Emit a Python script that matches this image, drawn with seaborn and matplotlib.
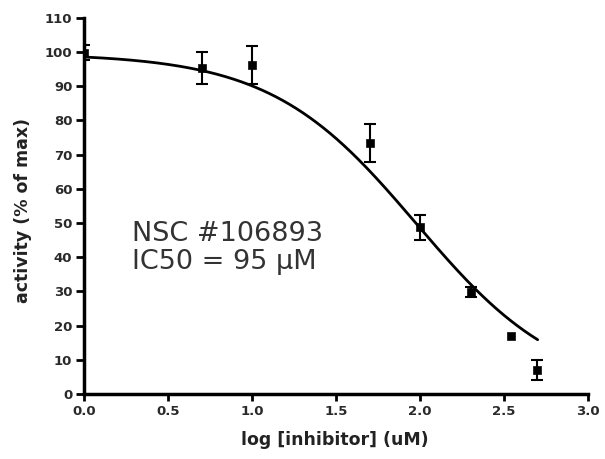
import numpy as np
import pandas as pd
import matplotlib
matplotlib.use("Agg")
import matplotlib.pyplot as plt
import seaborn as sns

# data
log_conc = [0.0, 0.699, 1.0, 1.699, 2.0, 2.301, 2.544, 2.699]
activity = [99.8, 95.4, 96.2, 73.4, 48.8, 29.8, 17.0, 7.0]
sem = [2.2, 4.6, 5.6, 5.5, 3.7, 1.4, 0.0, 3.0]

# fitted sigmoidal dose-response parameters
fit_top = 99.6
fit_bottom = 0.0
fit_logic50 = 1.978
fit_hill = 1.0
fit_xmin, fit_xmax = 0.0, 2.7

x_ticks = [0.0, 0.5, 1.0, 1.5, 2.0, 2.5, 3.0]
y_ticks = list(range(0, 111, 10))

sns.set_theme(style="ticks")
plt.rcParams['font.family'] = ['DejaVu Sans']

fig = plt.figure(figsize=(6.05, 4.59), dpi=100)
ax = fig.add_axes([0.139, 0.1416, 0.833, 0.8194])

xf = np.linspace(fit_xmin, fit_xmax, 200)
yf = fit_bottom + (fit_top - fit_bottom) / (1 + 10 ** ((xf - fit_logic50) * fit_hill))
curve = pd.DataFrame({"x": xf, "y": yf})
sns.lineplot(data=curve, x="x", y="y", ax=ax, color="black", linewidth=2.0)

df = pd.DataFrame({"x": log_conc, "y": activity, "e": sem})
eb = df[df["e"] > 0]
ax.errorbar(eb["x"], eb["y"], yerr=eb["e"], fmt="none", ecolor="black",
            elinewidth=1.5, capsize=4.5, capthick=1.5, zorder=3)
sns.scatterplot(data=df, x="x", y="y", ax=ax, marker="s", color="black",
                s=34, edgecolor="black", zorder=4)

ax.set_xlim(0, 3.0)
ax.set_ylim(0, 110)
ax.set_xticks(x_ticks)
ax.set_xticklabels([f"{v:.1f}" for v in x_ticks])
ax.set_yticks(y_ticks)
ax.set_yticklabels([str(v) for v in y_ticks])
ax.tick_params(axis="x", direction="out", length=5, width=2, labelsize=9.5,
               pad=3, color="black")
ax.tick_params(axis="y", direction="out", length=5.5, width=2, labelsize=9.5,
               pad=3, color="black")
for lab in ax.get_xticklabels() + ax.get_yticklabels():
    lab.set_fontweight("bold")
    lab.set_color("#2a2a2a")

for s in ["top", "right"]:
    ax.spines[s].set_visible(False)
for s in ["left", "bottom"]:
    ax.spines[s].set_linewidth(2.5)
    ax.spines[s].set_color("black")

ax.set_xlabel("log [inhibitor] (uM)", fontsize=12.5, fontweight="bold", color="#222222")
ax.set_ylabel("activity (% of max)", fontsize=12.5, fontweight="bold", color="#222222")
ax.xaxis.set_label_coords(0.497, -0.099)
ax.yaxis.set_label_coords(-0.103, 0.489)

ax.text(0.286, 44.8, "NSC #106893", fontsize=19.5, color="#333333", ha="left", va="baseline")
ax.text(0.286, 36.6, "IC50 = 95 \u00b5M", fontsize=19.5, color="#333333", ha="left", va="baseline")

fig.savefig("out.png", dpi=100, facecolor="white")
